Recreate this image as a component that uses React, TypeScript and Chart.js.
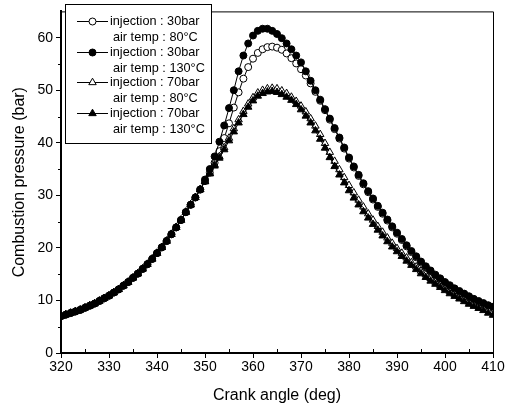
import React, { useEffect, useRef } from 'react';
import { Chart, registerables } from 'chart.js';

Chart.register(...registerables);

// Crank angle (deg), one sample per degree
const crankAngles: number[] = Array.from({ length: 91 }, (_, i) => 320 + i);

// Compression part (320..349 deg), shared by all four runs
const commonRise = [
  7.0, 7.3, 7.6, 7.9, 8.2, 8.6, 9.0, 9.4, 9.9, 10.4,
  10.9, 11.5, 12.1, 12.8, 13.5, 14.3, 15.1, 16.0, 16.9, 17.9,
  19.0, 20.1, 21.3, 22.6, 23.9, 25.3, 26.8, 28.2, 29.6, 31.1,
];

// 350..410 deg
const inj30Air80Tail = [
  32.7, 34.3, 36.2, 38.4, 40.9, 43.7, 46.7, 49.6, 52.2, 54.4,
  56.0, 57.1, 57.8, 58.2, 58.3, 58.1, 57.7, 57.0, 56.1, 55.1,
  54.0, 52.8, 51.3, 49.7, 48.0, 46.2, 44.4, 42.6, 40.8, 38.9,
  37.0, 35.3, 33.7, 32.1, 30.6, 29.2, 27.8, 26.5, 25.2, 23.9,
  22.7, 21.5, 20.3, 19.2, 18.2, 17.2, 16.3, 15.5, 14.7, 14.0,
  13.3, 12.7, 12.1, 11.6, 11.1, 10.6, 10.1, 9.7, 9.3, 8.9,
  8.6,
];
const inj30Air130Tail = [
  33.0, 35.0, 37.4, 40.2, 43.3, 46.6, 50.0, 53.6, 56.6, 58.9,
  60.4, 61.3, 61.7, 61.7, 61.3, 60.7, 59.9, 58.9, 57.8, 56.6,
  55.3, 53.6, 51.8, 50.0, 48.2, 46.4, 44.6, 42.8, 41.0, 39.1,
  37.2, 35.5, 33.9, 32.3, 30.8, 29.4, 28.0, 26.7, 25.4, 24.1,
  22.9, 21.7, 20.5, 19.4, 18.4, 17.4, 16.5, 15.7, 14.9, 14.2,
  13.5, 12.9, 12.3, 11.8, 11.3, 10.8, 10.3, 9.9, 9.5, 9.1,
  8.8,
];
const inj70Air80Tail = [
  32.7, 34.2, 35.8, 37.4, 39.1, 40.9, 42.7, 44.4, 46.0, 47.4,
  48.6, 49.5, 50.0, 50.3, 50.4, 50.3, 49.9, 49.4, 48.7, 47.9,
  47.0, 45.9, 44.6, 43.2, 41.6, 39.9, 38.2, 36.5, 34.9, 33.4,
  31.9, 30.5, 29.1, 27.8, 26.5, 25.3, 24.1, 23.0, 21.9, 20.9,
  19.9, 19.0, 18.1, 17.2, 16.4, 15.6, 14.9, 14.2, 13.5, 12.9,
  12.3, 11.7, 11.2, 10.7, 10.2, 9.7, 9.3, 8.9, 8.5, 8.1,
  7.7,
];
const inj70Air130Tail = [
  32.6, 34.1, 35.6, 37.1, 38.7, 40.4, 42.1, 43.8, 45.4, 46.8,
  48.0, 48.9, 49.4, 49.7, 49.8, 49.6, 49.2, 48.7, 48.1, 47.3,
  46.3, 45.1, 43.8, 42.3, 40.7, 39.0, 37.2, 35.5, 33.9, 32.4,
  30.9, 29.5, 28.2, 26.9, 25.7, 24.5, 23.4, 22.3, 21.2, 20.2,
  19.3, 18.4, 17.5, 16.7, 15.9, 15.1, 14.4, 13.7, 13.1, 12.5,
  11.9, 11.3, 10.8, 10.3, 9.8, 9.3, 8.9, 8.5, 8.1, 7.6,
  7.2,
];

const inj30Air80 = [...commonRise, ...inj30Air80Tail];
const inj30Air130 = [...commonRise, ...inj30Air130Tail];
const inj70Air80 = [...commonRise, ...inj70Air80Tail];
const inj70Air130 = [...commonRise, ...inj70Air130Tail];

const legendFirstLines = ['injection : 30bar', 'injection : 30bar', 'injection : 70bar', 'injection : 70bar'];
const legendSecondLines = ['air temp : 80°C', 'air temp : 130°C', 'air temp : 80°C', 'air temp : 130°C'];
const markerStyles = ['circle', 'circle', 'triangle', 'triangle'];
const markerFilled = [false, true, false, true];
// filled markers are drawn over the open ones
const drawOrder = [3, 1, 2, 0];

const xTicks = [320, 330, 340, 350, 360, 370, 380, 390, 400, 410];
const yTicks = [0, 10, 20, 30, 40, 50, 60];
const xMinor = [325, 335, 345, 355, 365, 375, 385, 395, 405];
const yMinor = [5, 15, 25, 35, 45, 55];

const FONT = "'Liberation Sans', Arial, Helvetica, sans-serif";

function drawMarker(ctx: CanvasRenderingContext2D, style: string, filled: boolean, x: number, y: number, r: number) {
  ctx.beginPath();
  if (style === 'circle') {
    ctx.arc(x, y, r, 0, Math.PI * 2);
  } else {
    for (let k = 0; k < 3; k++) {
      const a = -Math.PI / 2 + (k * 2 * Math.PI) / 3;
      const px = x + r * Math.cos(a);
      const py = y + r * Math.sin(a);
      if (k === 0) ctx.moveTo(px, py);
      else ctx.lineTo(px, py);
    }
    ctx.closePath();
  }
  ctx.fillStyle = filled ? '#000' : '#fff';
  ctx.fill();
  ctx.strokeStyle = '#000';
  ctx.lineWidth = 1;
  ctx.stroke();
}

const framePlugin = {
  id: 'framePlugin',
  afterDraw(chart: any) {
    const { ctx, chartArea, scales } = chart;
    const { left, right, top, bottom } = chartArea;
    ctx.save();
    ctx.strokeStyle = '#000';
    ctx.lineWidth = 1;
    // top and right frame
    ctx.beginPath();
    ctx.moveTo(left, top + 0.5);
    ctx.lineTo(right + 0.5, top + 0.5);
    ctx.lineTo(right + 0.5, bottom);
    ctx.stroke();
    // minor ticks
    ctx.beginPath();
    xMinor.forEach((v) => {
      const px = Math.round(scales.x.getPixelForValue(v)) + 0.5;
      ctx.moveTo(px, bottom);
      ctx.lineTo(px, bottom - 4);
    });
    yMinor.forEach((v) => {
      const py = Math.round(scales.y.getPixelForValue(v)) + 0.5;
      ctx.moveTo(left, py);
      ctx.lineTo(left - 3, py);
    });
    ctx.stroke();

    // legend
    const bx = 65.5, by = 4.5, bw = 146, bh = 139;
    ctx.fillStyle = '#fff';
    ctx.fillRect(bx, by, bw, bh);
    ctx.strokeRect(bx, by, bw, bh);
    ctx.font = `12.7px ${FONT}`;
    ctx.textBaseline = 'middle';
    ctx.textAlign = 'left';
    for (let i = 0; i < legendFirstLines.length; i++) {
      const y1 = 21 + i * 30.5;
      const y2 = y1 + 16;
      ctx.beginPath();
      ctx.moveTo(77, Math.round(y1) + 0.5);
      ctx.lineTo(108, Math.round(y1) + 0.5);
      ctx.strokeStyle = '#000';
      ctx.lineWidth = 1;
      ctx.stroke();
      drawMarker(ctx, markerStyles[i], markerFilled[i], 92.5, Math.round(y1) + 0.5, markerStyles[i] === 'circle' ? 3.5 : 4.3);
      ctx.fillStyle = '#000';
      ctx.fillText(legendFirstLines[i], 110, y1 + 0.5);
      ctx.fillText(legendSecondLines[i], 113, y2 + 0.5);
    }
    ctx.restore();
  },
};

export default function App() {
  const canvasRef = useRef<HTMLCanvasElement | null>(null);

  useEffect(() => {
    if (!canvasRef.current) return;
    const series = [inj30Air80, inj30Air130, inj70Air80, inj70Air130];
    const chart = new Chart(canvasRef.current, {
      type: 'line',
      data: {
        labels: crankAngles,
        datasets: series.map((vals, i) => ({
          label: `${legendFirstLines[i]} ${legendSecondLines[i]}`,
          data: vals.map((v, j) => ({ x: crankAngles[j], y: v })),
          order: drawOrder[i],
          borderColor: '#000',
          borderWidth: 1,
          pointStyle: markerStyles[i] as any,
          pointRadius: markerStyles[i] === 'circle' ? 3.5 : 4.3,
          pointBorderWidth: 1,
          pointBorderColor: '#000',
          pointBackgroundColor: markerFilled[i] ? '#000' : '#fff',
          fill: false,
          tension: 0,
        })),
      },
      options: {
        animation: false,
        responsive: true,
        maintainAspectRatio: false,
        layout: { padding: { top: 1, right: 14, left: 0, bottom: 0 } },
        plugins: {
          legend: { display: false },
          tooltip: { enabled: false },
        },
        scales: {
          x: {
            type: 'linear',
            min: 320,
            max: 410,
            afterBuildTicks: (s: any) => {
              s.ticks = xTicks.map((v) => ({ value: v }));
            },
            afterFit: (s: any) => {
              s.height = 56;
            },
            ticks: {
              color: '#000',
              font: { size: 14, family: FONT },
              padding: 1,
              maxRotation: 0,
              autoSkip: false,
            },
            grid: {
              drawOnChartArea: false,
              drawTicks: true,
              tickLength: 5,
              color: '#000',
              tickWidth: 1,
            },
            border: { display: true, color: '#000', width: 2 },
            title: {
              display: true,
              text: 'Crank angle (deg)',
              color: '#000',
              font: { size: 16, family: FONT },
              padding: { top: 2, bottom: 4 },
            },
          },
          y: {
            type: 'linear',
            min: 0,
            max: 65,
            afterBuildTicks: (s: any) => {
              s.ticks = yTicks.map((v) => ({ value: v }));
            },
            afterFit: (s: any) => {
              s.width = 61;
            },
            ticks: {
              color: '#000',
              font: { size: 14, family: FONT },
              padding: 3,
              autoSkip: false,
            },
            grid: {
              drawOnChartArea: false,
              drawTicks: true,
              tickLength: 5,
              color: '#000',
              tickWidth: 1,
            },
            border: { display: true, color: '#000', width: 2 },
            title: {
              display: true,
              text: 'Combustion pressure (bar)',
              color: '#000',
              font: { size: 16, family: FONT },
              padding: { top: 10, bottom: 0 },
            },
          },
        },
      },
      plugins: [framePlugin],
    });
    return () => chart.destroy();
  }, []);

  return (
    <div style={{ position: 'absolute', left: 0, top: 0, width: 507, height: 409, background: '#fff' }}>
      <canvas ref={canvasRef} />
    </div>
  );
}
